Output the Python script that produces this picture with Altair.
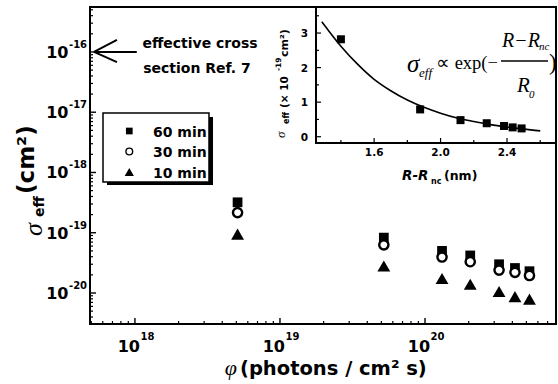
import altair as alt
import pandas as pd

# ---------------- data ----------------
phi = [5.1e18, 5.2e19, 1.31e20, 2.05e20, 3.24e20, 4.17e20, 5.25e20]
sigma_60 = [3.2e-19, 8.3e-20, 5.0e-20, 4.2e-20, 3.0e-20, 2.6e-20, 2.3e-20]
sigma_30 = [2.16e-19, 6.3e-20, 3.95e-20, 3.3e-20, 2.4e-20, 2.2e-20, 1.95e-20]
sigma_10 = [9.5e-20, 2.8e-20, 1.74e-20, 1.4e-20, 1.06e-20, 8.7e-21, 7.9e-21]

inset_r = [1.40, 1.877, 2.12, 2.278, 2.382, 2.434, 2.488]
inset_sigma = [2.82, 0.79, 0.48, 0.39, 0.31, 0.27, 0.24]
fit_r = [1.285, 1.4, 1.5, 1.6, 1.7, 1.8, 1.9, 2.0, 2.1, 2.2, 2.3, 2.4, 2.5, 2.6]
fit_sigma = [3.33, 2.62, 2.10, 1.66, 1.33, 1.06, 0.85, 0.68, 0.54, 0.44, 0.35, 0.28, 0.22, 0.17]

x_major = [1e18, 1e19, 1e20]
x_major_exp = ["18", "19", "20"]
y_major = [1e-16, 1e-17, 1e-18, 1e-19, 1e-20]
y_major_exp = ["-16", "-17", "-18", "-19", "-20"]
mantissas = [2, 3, 4, 5, 6, 7, 8, 9]

inset_x_major = [1.6, 2.0, 2.4]
inset_x_labels = ["1.6", "2.0", "2.4"]
inset_x_minor = [1.4, 1.8, 2.2, 2.6]
inset_y_major = [0, 1, 2, 3]
inset_y_labels = ["0", "1", "2", "3"]
inset_y_minor = [0.5, 1.5, 2.5, 3.5]

# arrow pointing at 1e-16 on the y axis
arrow_x = [5.22e17, 5.22e17, 5.22e17]
arrow_x2 = [1.03e18, 7.52e17, 7.52e17]
arrow_y = [1e-16, 1e-16, 1e-16]
arrow_y2 = [1e-16, 1.58e-16, 6.8e-17]

# ---------------- layout ----------------
W, H = 466, 317
FONT = "DejaVu Sans"
SERIF = "Liberation Serif"

XDOM = [4.9e17, 8.0e20]
YDOM = [3.06e-21, 5.57e-16]
xs = alt.Scale(type="log", domain=XDOM, nice=False)
ys = alt.Scale(type="log", domain=YDOM, nice=False)

x_minor = [m * 10.0 ** d for d in range(17, 21) for m in mantissas
           if XDOM[0] <= m * 10.0 ** d <= XDOM[1]]
y_minor = [m * 10.0 ** d for d in range(-21, -15) for m in mantissas
           if YDOM[0] <= m * 10.0 ** d <= YDOM[1]]

xi = alt.Scale(domain=[1.25, 2.695], range=[226, 466], nice=False, zero=False)
yi = alt.Scale(domain=[-0.182, 3.754], range=[136, 0], nice=False, zero=False)

dummy = pd.DataFrame({"a": [0]})


def label(text, x, y, size, weight="bold", font=FONT, style="normal",
          align="left", baseline="alphabetic", angle=0):
    kw = dict(text=text, font=font, fontSize=size, fontWeight=weight,
              fontStyle=style, align=align, baseline=baseline, color="black")
    if angle:
        kw["angle"] = angle
    return alt.Chart(dummy).mark_text(**kw).encode(x=alt.value(x), y=alt.value(y))


# ---------------- main plot ----------------
pts = pd.DataFrame({"phi": phi, "s60": sigma_60, "s30": sigma_30, "s10": sigma_10})
X = alt.X("phi:Q", scale=xs, axis=None)

sq = alt.Chart(pts).mark_point(shape="square", filled=True, size=95, color="black",
                               opacity=1).encode(x=X, y=alt.Y("s60:Q", scale=ys, axis=None))
ci = alt.Chart(pts).mark_point(shape="circle", filled=True, fill="white", stroke="black",
                               strokeWidth=2.4, size=85, opacity=1, fillOpacity=1
                               ).encode(x=X, y=alt.Y("s30:Q", scale=ys, axis=None))
tr = alt.Chart(pts).mark_point(shape="triangle-up", filled=True, size=165, color="black",
                               opacity=1).encode(x=X, y=alt.Y("s10:Q", scale=ys, axis=None))

def xticks(vals, length, width):
    return alt.Chart(pd.DataFrame({"v": vals})).mark_rule(color="black", strokeWidth=width).encode(
        x=alt.X("v:Q", scale=xs, axis=None), y=alt.value(H), y2=alt.value(H - length))

def yticks(vals, length, width):
    return alt.Chart(pd.DataFrame({"v": vals})).mark_rule(color="black", strokeWidth=width).encode(
        y=alt.Y("v:Q", scale=ys, axis=None), x=alt.value(0), x2=alt.value(length))

xlab = pd.DataFrame({"v": x_major, "e": x_major_exp, "b": ["10"] * 3})
ylab = pd.DataFrame({"v": y_major, "e": y_major_exp, "b": ["10"] * 5})

x_base = alt.Chart(xlab).mark_text(font=FONT, fontWeight="bold", fontSize=16, align="right",
                                   baseline="alphabetic", dx=5).encode(
    x=alt.X("v:Q", scale=xs, axis=None), y=alt.value(345), text="b:N")
x_exp = alt.Chart(xlab).mark_text(font=FONT, fontWeight="bold", fontSize=10, align="left",
                                  baseline="alphabetic", dx=5.5).encode(
    x=alt.X("v:Q", scale=xs, axis=None), y=alt.value(332.5), text="e:N")
y_base = alt.Chart(ylab).mark_text(font=FONT, fontWeight="bold", fontSize=16, align="right",
                                   baseline="alphabetic", dy=6).encode(
    y=alt.Y("v:Q", scale=ys, axis=None), x=alt.value(-21.5), text="b:N")
y_exp = alt.Chart(ylab).mark_text(font=FONT, fontWeight="bold", fontSize=10, align="left",
                                  baseline="alphabetic", dy=-4).encode(
    y=alt.Y("v:Q", scale=ys, axis=None), x=alt.value(-21), text="e:N")

arrow = alt.Chart(pd.DataFrame({"x": arrow_x, "x2": arrow_x2, "y": arrow_y, "y2": arrow_y2})
                  ).mark_rule(color="black", strokeWidth=2).encode(
    x=alt.X("x:Q", scale=xs, axis=None), x2="x2:Q",
    y=alt.Y("y:Q", scale=ys, axis=None), y2="y2:Q")

main = alt.layer(xticks(x_major, 6, 1.4), xticks(x_minor, 3, 1.2),
                 yticks(y_major, 6, 1.4), yticks(y_minor, 3, 1.2),
                 x_base, x_exp, y_base, y_exp, arrow, sq, ci, tr)

# ---------------- inset ----------------
inset_frame = alt.Chart(dummy).mark_rect(fill="white", stroke="black", strokeWidth=2).encode(
    x=alt.value(226), x2=alt.value(W), y=alt.value(0), y2=alt.value(136))

def ixticks(vals, length):
    return alt.Chart(pd.DataFrame({"v": vals})).mark_rule(color="black", strokeWidth=1.2).encode(
        x=alt.X("v:Q", scale=xi, axis=None), y=alt.value(136), y2=alt.value(136 - length))

def iyticks(vals, length):
    return alt.Chart(pd.DataFrame({"v": vals})).mark_rule(color="black", strokeWidth=1.2).encode(
        y=alt.Y("v:Q", scale=yi, axis=None), x=alt.value(226), x2=alt.value(226 + length))

ixl = alt.Chart(pd.DataFrame({"v": inset_x_major, "t": inset_x_labels})).mark_text(
    font=FONT, fontWeight="bold", fontSize=10.5, align="center", baseline="alphabetic").encode(
    x=alt.X("v:Q", scale=xi, axis=None), y=alt.value(148.5), text="t:N")
iyl = alt.Chart(pd.DataFrame({"v": inset_y_major, "t": inset_y_labels})).mark_text(
    font=FONT, fontWeight="bold", fontSize=10.5, align="right", baseline="alphabetic", dy=4).encode(
    y=alt.Y("v:Q", scale=yi, axis=None), x=alt.value(218), text="t:N")

curve = alt.Chart(pd.DataFrame({"r": fit_r, "s": fit_sigma})).mark_line(
    color="black", strokeWidth=1.6, interpolate="monotone").encode(
    x=alt.X("r:Q", scale=xi, axis=None), y=alt.Y("s:Q", scale=yi, axis=None))
isq = alt.Chart(pd.DataFrame({"r": inset_r, "s": inset_sigma})).mark_point(
    shape="square", filled=True, size=64, color="black", opacity=1).encode(
    x=alt.X("r:Q", scale=xi, axis=None), y=alt.Y("s:Q", scale=yi, axis=None))

inset = alt.layer(inset_frame, ixticks(inset_x_major, 5), ixticks(inset_x_minor, 3),
                  iyticks(inset_y_major, 5), iyticks(inset_y_minor, 3),
                  ixl, iyl, curve, isq)

# ---------------- texts, legend ----------------
texts = [
    # annotation
    label("effective cross", 110, 41, 14, align="center"),
    label("section Ref. 7", 107, 66, 14, align="center"),
    # main x title
    label("\u03c6", 147, 368, 22, weight="normal", font=SERIF, style="italic", align="right"),
    label("(photons / cm\u00b2 s)", 150, 368, 19.5),
    # main y title
    label("\u03c3", -48, 229, 26, weight="normal", font=SERIF, style="italic", angle=270),
    label("eff", -46, 210, 14, angle=270),
    label("(cm\u00b2)", -56, 187, 23, angle=270),
    # inset x title
    label("R-R", 312, 173, 13.5, style="italic"),
    label("nc", 341, 177, 8),
    label("(nm)", 354, 173, 12.5),
    # inset y title
    label("\u03c3", 195, 131, 13, weight="normal", font=SERIF, style="italic", angle=270),
    label("eff", 199, 117, 8, angle=270),
    label("(\u00d7 10", 197.5, 101, 10.5, angle=270),
    label("-19", 191, 64, 7.5, angle=270),
    label("cm\u00b2)", 197.5, 50, 11, angle=270),
    # formula
    label("\u03c3", 317, 65, 25, weight="normal", font=SERIF, style="italic"),
    label("eff", 329, 70, 13, weight="normal", font=SERIF, style="italic"),
    label("\u221d exp(\u2212", 346, 62, 18.5, weight="normal", font=SERIF),
    label("R\u2212R", 412, 40, 20, weight="normal", font=SERIF, style="italic"),
    label("nc", 449, 43, 11, weight="normal", font=SERIF, style="italic"),
    label("R", 427, 85, 21, weight="normal", font=SERIF, style="italic"),
    label("0", 439, 91, 11, weight="normal", font=SERIF, style="italic"),
    label(")", 459, 63, 23, weight="normal", font=SERIF),
]
frac = alt.Chart(dummy).mark_rule(color="black", strokeWidth=1.3).encode(
    x=alt.value(411), x2=alt.value(458), y=alt.value(54))

shadow = alt.Chart(dummy).mark_rect(fill="black").encode(
    x=alt.value(17), x2=alt.value(123), y=alt.value(110), y2=alt.value(178))
box = alt.Chart(dummy).mark_rect(fill="white", stroke="black", strokeWidth=1.5).encode(
    x=alt.value(13), x2=alt.value(119), y=alt.value(106), y2=alt.value(175))

legend_names = ["60 min", "30 min", "10 min"]
leg_rows = [124, 144.5, 165]
leg = [
    alt.Chart(dummy).mark_point(shape="square", filled=True, size=45, color="black", opacity=1
                                ).encode(x=alt.value(39.3), y=alt.value(leg_rows[0])),
    alt.Chart(dummy).mark_point(shape="circle", filled=True, fill="white", stroke="black",
                                strokeWidth=1.4, size=45, opacity=1
                                ).encode(x=alt.value(39.3), y=alt.value(leg_rows[1])),
    alt.Chart(dummy).mark_point(shape="triangle-up", filled=True, size=85, color="black", opacity=1
                                ).encode(x=alt.value(39.3), y=alt.value(leg_rows[2])),
]
for name, row in zip(legend_names, leg_rows):
    leg.append(label(name, 63, row + 5.7, 14))

frame = alt.Chart(dummy).mark_rect(fillOpacity=0, stroke="black", strokeWidth=2).encode(
    x=alt.value(0), x2=alt.value(W), y=alt.value(0), y2=alt.value(H))

overlay = alt.layer(*texts, frac, shadow, box, *leg, frame)

chart = alt.layer(main, inset, overlay).resolve_scale(x="independent", y="independent").properties(
    width=W, height=H,
    autosize=alt.AutoSizeParams(type="none"),
    padding={"left": 90, "top": 7, "right": 2, "bottom": 60},
).configure_view(stroke="black", strokeWidth=2, fill="white").configure(background="white")

chart.save("out.html", embed_options={"renderer": "svg", "actions": False})
